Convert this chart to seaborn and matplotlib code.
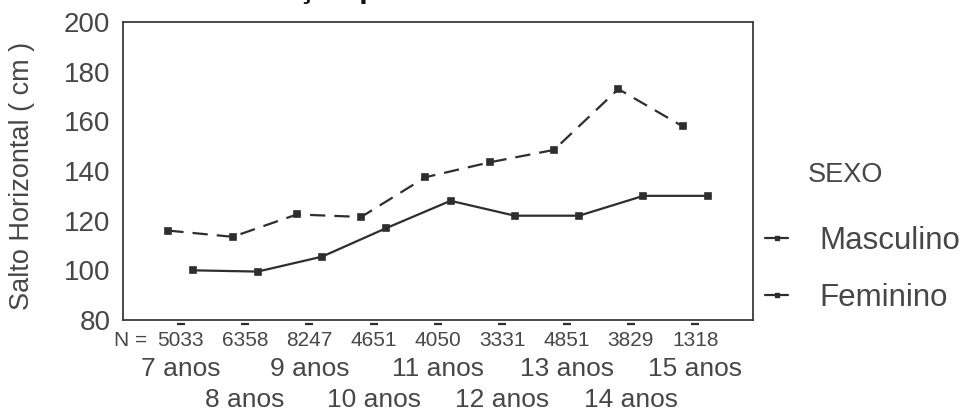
import matplotlib
matplotlib.use("Agg")
import matplotlib.pyplot as plt
import matplotlib.transforms as mtransforms
from matplotlib.lines import Line2D
import seaborn as sns
import pandas as pd

# Idades, tamanho das amostras e médias do salto horizontal por sexo
idades = ["7", "8", "9", "10", "11", "12", "13", "14", "15"]
rotulos_idade = ["7 anos", "8 anos", "9 anos", "10 anos", "11 anos",
                 "12 anos", "13 anos", "14 anos", "15 anos"]
n_amostra = ["5033", "6358", "8247", "4651", "4050", "3331", "4851", "3829", "1318"]
sexos = ["Masculino", "Feminino"]
salto_masculino = [116, 113.5, 122.5, 121.5, 137.5, 143.5, 148.5, 173, 158]
salto_feminino = [100, 99.5, 105.5, 117, 128, 122, 122, 130, 130]

df = pd.DataFrame({
    "Idade": idades * 2,
    "SEXO": [sexos[0]] * len(idades) + [sexos[1]] * len(idades),
    "Salto": salto_masculino + salto_feminino,
})

sns.set_style("white")
plt.rcParams["font.family"] = ["Liberation Sans", "DejaVu Sans"]
plt.rcParams["lines.scale_dashes"] = False

TXT = "#474747"
INK = "#2e2e2e"

W, H = 978, 418
fig = plt.figure(figsize=(W / 100, H / 100), dpi=100)
ax = fig.add_axes([123 / W, (H - 320) / H, (753 - 123) / W, (320 - 22) / H])

sns.pointplot(
    data=df, x="Idade", y="Salto", hue="SEXO",
    order=idades, hue_order=sexos, dodge=0.39,
    markers=["s", "s"], linestyles=["--", "-"],
    palette=[INK, INK], errorbar=None, legend=False,
    markersize=4, linewidth=1.6, ax=ax,
)
for ln in ax.lines:
    if ln.get_linestyle() == "--":
        ln.set_dashes((11, 6.5))

ax.set_xlim(-0.9, 8.9)
ax.set_ylim(80, 200)
ax.set_yticks(range(80, 201, 20))
ax.set_xlabel("")
ax.set_ylabel("")
ax.tick_params(axis="y", direction="inout", length=4, width=2.5,
               color=INK, pad=7, labelsize=20, labelcolor=TXT)
ax.set_xticks(range(len(idades)))
ax.set_xticklabels([])
ax.tick_params(axis="x", length=0)
for s in ax.spines.values():
    s.set_visible(True)
    s.set_linewidth(1.3)
    s.set_color("#3a3a3a")

# Marcas curtas sob o eixo e linhas de rótulos (N, idades alternadas)
tr = mtransforms.blended_transform_factory(ax.transData, ax.transAxes)
ax.plot(range(len(idades)), [-0.012] * len(idades), ls="none", marker="_",
        ms=6, mew=1.6, color=INK, transform=tr, clip_on=False)
ph = 298.0
for i, (n, lab) in enumerate(zip(n_amostra, rotulos_idade)):
    ax.text(i, -(340 - 320) / ph, n, transform=tr, ha="center", va="center",
            fontsize=15, color=TXT)
    y_row = 369 if i % 2 == 0 else 400
    ax.text(i, -(y_row - 320) / ph, lab, transform=tr, ha="center",
            va="center", fontsize=19, color=TXT)
ax.text(-0.53, -(340 - 320) / ph, "N =", transform=tr, ha="right",
        va="center", fontsize=15, color=TXT)

fig.text(22 / W, (H - 176) / H, "Salto Horizontal ( cm )", rotation=90,
         ha="center", va="center", fontsize=19.5, color=TXT)

# Título parcialmente fora da área da figura
fig.text(298 / W, 1 + 2.5 / H, "ção p", fontsize=22, fontweight="bold",
         color="#111111", ha="left", va="baseline")

# Legenda
fig.text(808 / W, (H - 175) / H, "SEXO", fontsize=19.5, color=TXT,
         ha="left", va="center")
handles = [Line2D([], [], color=INK, ls="-", lw=1.6, marker="s", ms=3.5)
           for _ in sexos]
fig.legend(handles, sexos, loc="upper left",
           bbox_to_anchor=(765 / W, (H - 226) / H), frameon=False,
           fontsize=22.5, labelcolor=TXT, handlelength=0.75, handletextpad=1.0,
           labelspacing=0.85, borderpad=0, borderaxespad=0)

fig.savefig("out.png", dpi=100, facecolor="white")
